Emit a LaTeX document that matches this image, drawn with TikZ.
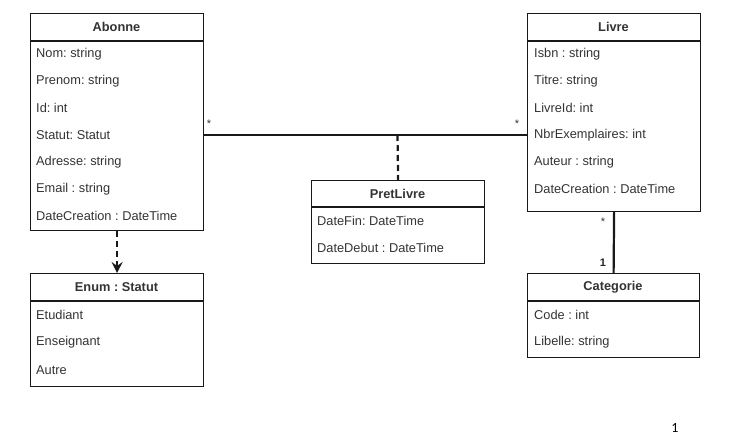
\documentclass[tikz,border=0pt]{standalone}
\usepackage{fontspec}
\setmainfont{Liberation Sans}
\newfontfamily\pagefont{Carlito}
\usetikzlibrary{arrows.meta}
\frenchspacing
\begin{document}
\begin{tikzpicture}[x=1bp,y=-1bp,
  classbox/.style={draw=black!90, line width=1.2bp, rectangle, anchor=north west, inner sep=0pt},
  hdr/.style={font=\fontsize{12.8bp}{15bp}\selectfont\bfseries, text=black!80, inner sep=0pt},
  attr/.style={font=\fontsize{12.8bp}{15bp}\selectfont, text=black!80, anchor=west, inner sep=0pt},
  sepline/.style={draw=black!90, line width=1.2bp},
  assoc/.style={draw=black!90, line width=2.2bp},
  depline/.style={draw=black!90, line width=2.2bp, dash pattern=on 6bp off 4bp},
  mult/.style={font=\fontsize{11bp}{12bp}\selectfont, text=black!80, inner sep=0pt},
  multb/.style={font=\fontsize{11bp}{12bp}\selectfont\bfseries, text=black!85, inner sep=0pt}
]
\useasboundingbox (0,0) rectangle (738,440);

% Abonne
\node[classbox, minimum width=173bp, minimum height=217bp] (Abonne) at (30,13) {};
\draw[sepline] (30,41) -- (203,41);
\node[hdr] (AbonneT) at (116.5,27) {Abonne};
\foreach \t [count=\i] in {Nom: string, Prenom: string, Id: int, Statut: Statut, Adresse: string, Email : string, DateCreation : DateTime}
  \node[attr] (ab\i) at (36,{27+27*\i}) {\t};

% Livre
\node[classbox, minimum width=173bp, minimum height=198bp] (Livre) at (527,13) {};
\draw[sepline] (527,41) -- (700,41);
\node[hdr] (LivreT) at (613.5,27) {Livre};
\foreach \t [count=\i] in {Isbn : string, Titre: string, LivreId: int, NbrExemplaires: int, Auteur : string, DateCreation : DateTime}
  \node[attr] (li\i) at (534,{27+27*\i}) {\t};

% PretLivre
\node[classbox, minimum width=173bp, minimum height=83bp] (PretLivre) at (311,180) {};
\draw[sepline] (311,207) -- (484,207);
\node[hdr] (PretLivreT) at (397.5,194) {PretLivre};
\node[attr] (pl1) at (317,221) {DateFin: DateTime};
\node[attr] (pl2) at (317,248) {DateDebut : DateTime};

% Enum : Statut
\node[classbox, minimum width=173bp, minimum height=113bp] (Enum) at (30,273) {};
\draw[sepline] (30,301) -- (203,301);
\node[hdr] (EnumT) at (116.5,287) {Enum : Statut};
\node[attr] (en1) at (36,315) {Etudiant};
\node[attr] (en2) at (36,342) {Enseignant};
\node[attr] (en3) at (36,370) {Autre};

% Categorie
\node[classbox, minimum width=172bp, minimum height=84bp] (Categorie) at (527,273) {};
\draw[sepline] (527,301) -- (699,301);
\node[hdr] (CategorieT) at (613,287) {Categorie};
\node[attr] (ca1) at (534,315) {Code : int};
\node[attr] (ca2) at (534,342) {Libelle: string};

% connectors
\coordinate (mid) at (397.5,135);
\draw[assoc] (Abonne.east |- mid) -- (Livre.west |- mid);
\draw[depline] (mid) -- (PretLivre.north);
\draw[depline, -{Stealth[length=11bp,width=11bp,inset=4bp]}] (Abonne.south) -- (Enum.north);
\draw[assoc] (Livre.south) -- (Categorie.north);

% multiplicities
\node[mult] (m1) at (209,124) {*};
\node[mult] (m2) at (517,124) {*};
\node[mult] (m3) at (603,222) {*};
\node[multb] (m4) at (603,263) {1};

% page number
\node[font=\pagefont\fontsize{14bp}{16bp}\selectfont, inner sep=0pt] (page) at (675,428) {1};
\end{tikzpicture}
\end{document}
